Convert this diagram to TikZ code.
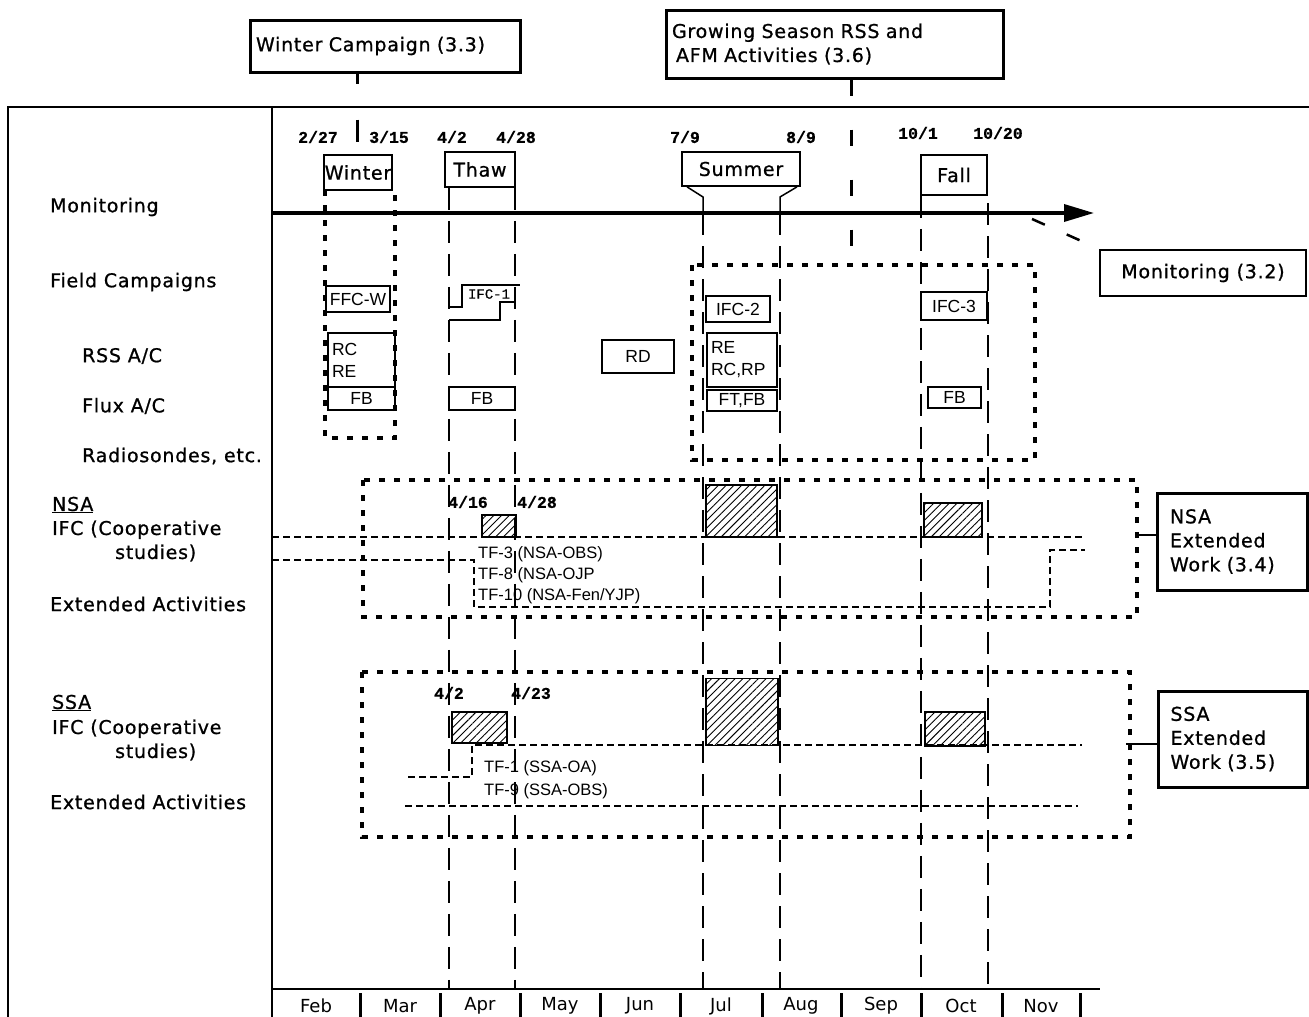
\documentclass[tikz,border=0pt]{standalone}
\usepackage{fontspec}
\setmainfont{DejaVu Sans}
\newfontfamily\rowfam[FakeBold=0.9,LetterSpace=4]{DejaVu Sans}
\newfontfamily\helvfont{Liberation Sans}
\newfontfamily\courfont[FakeBold=0.6]{Liberation Mono}
\usetikzlibrary{arrows.meta,patterns.meta}
\newcommand{\rowfont}{\rowfam\fontsize{19}{24}\selectfont}
\newcommand{\boxfont}{\helvfont\fontsize{17.5}{22}\selectfont}
\newcommand{\tffont}{\helvfont\fontsize{16.5}{21}\selectfont}
\newcommand{\datefont}{\courfont\bfseries\fontsize{16.5}{18}\selectfont}
\begin{document}
\begin{tikzpicture}[x=1pt,y=-1pt,
  frame/.style={line width=2.2pt},
  titlebox/.style={draw,line width=3pt,inner xsep=6pt,inner ysep=0pt,font=\rowfont,align=left},
  period/.style={draw,line width=1.8pt,inner sep=0pt,font=\rowfont},
  cbox/.style={draw,line width=1.8pt,inner sep=0pt,font=\boxfont},
  dotbox/.style={line width=3.5pt,dash pattern=on 6pt off 9pt},
  dateline/.style={line width=1.6pt,dash pattern=on 22pt off 11pt},
  track/.style={line width=1.2pt,dash pattern=on 7pt off 4pt},
  hatch/.style={draw,line width=1.8pt,pattern={Lines[angle=45,distance=5.5pt,line width=0.9pt]}},
  row/.style={anchor=west,font=\rowfont,inner sep=0pt},
  date/.style={font=\datefont,inner sep=0pt},
  tf/.style={anchor=west,font=\tffont,inner sep=0pt,align=left},
]
\useasboundingbox (0,0) rectangle (1309,1017);
%
% title boxes
\node[titlebox,minimum width=270pt,minimum height=52pt,text width=258pt] (wcamp) at (385,46) {Winter Campaign (3.3)};
\node[titlebox,minimum width=337pt,minimum height=68pt,text width=325pt] (grow) at (834.5,44) {Growing Season RSS and\\\hspace{4pt}AFM Activities (3.6)};
\draw[line width=3pt,dash pattern=on 10pt off 36pt on 24pt off 100pt] (wcamp.south -| 357,0) -- (357,142);
\draw[line width=3pt,dash pattern=on 16pt off 34pt] (grow.south -| 851,0) -- (851,250);
%
% frame and time axis
\draw[frame] (8,1017) -- (8,107) -- (1309,107);
\draw[line width=2pt] (272,107) -- (272,1017);
\draw[line width=2pt] (272,989) -- (1100,989);
\foreach \x in {360,440,520,600,680,762,841,921,1002,1080}
  \draw[line width=3pt] (\x,993) -- (\x,1017);
\foreach \x/\m in {316/Feb,400/Mar,480/Apr,560/May,640/Jun,721/Jul,801/Aug,881/Sep,961/Oct,1041/Nov}
  \node[font=\fontsize{18}{20}\selectfont,inner sep=0pt] (m\m) at (\x,1006) {\m};
\coordinate (d1) at (449,989);
\coordinate (d2) at (515,989);
\coordinate (d3) at (703,989);
\coordinate (d4) at (780,989);
\coordinate (d5) at (921,989);
\coordinate (d6) at (988,989);
\coordinate (axisL) at (272,213);
%
% row labels
\node[row] (lmon) at (50,207) {Monitoring};
\node[row] (lfield) at (50,282) {Field Campaigns};
\node[row] (lrss) at (82,356) {RSS A/C};
\node[row] (lflux) at (82,406) {Flux A/C};
\node[row] (lradio) at (82,456) {Radiosondes, etc.};
\node[row] (lnsa) at (52,505) {\underline{NSA}};
\node[row,align=left] (lnsaifc) at (52,541) {IFC (Cooperative\\\hspace{63pt}studies)};
\node[row] (lnsaext) at (50,604) {Extended Activities};
\node[row] (lssa) at (52,703) {\underline{SSA}};
\node[row,align=left] (lssaifc) at (52,740) {IFC (Cooperative\\\hspace{63pt}studies)};
\node[row] (lssaext) at (50,802) {Extended Activities};
%
% periods
\node[period,minimum width=68pt,minimum height=35pt] (winter) at (358,172.5) {Winter};
\node[period,minimum width=70pt,minimum height=35pt] (thaw) at (480,169.5) {Thaw};
\node[period,minimum width=118pt,minimum height=34pt] (summer) at (741,169) {Summer};
\node[period,minimum width=66pt,minimum height=40pt] (fall) at (954,175) {Fall};
\node[date] (t1) at (318,137) {2/27};
\node[date] (t2) at (389,137) {3/15};
\node[date] (t3) at (452,137) {4/2};
\node[date] (t4) at (516,137) {4/28};
\node[date] (t5) at (685,137) {7/9};
\node[date] (t6) at (801,137) {8/9};
\node[date] (t7) at (918,133) {10/1};
\node[date] (t8) at (998,133) {10/20};
%
% monitoring
\draw[line width=3.5pt,-{Triangle[length=30pt,width=17pt]}] (axisL) -- (1094,213);
\node[draw,line width=2.5pt,minimum width=206pt,minimum height=46pt,inner sep=0pt,font=\rowfont] (mon32) at (1203,273) {Monitoring (3.2)};
\draw[line width=2.5pt,dash pattern=on 14pt off 24pt] (1032,219) -- (mon32.north west);
%
% date lines
\draw[line width=1.5pt] ([xshift=6pt]summer.south west) -- (703,197) -- (d3 |- axisL);
\draw[line width=1.5pt] ([xshift=-4pt]summer.south east) -- (780,197) -- (d4 |- axisL);
\draw[dateline] (d1 |- thaw.south) -- (d1);
\draw[dateline] (d2 |- thaw.south) -- (d2);
\draw[dateline] (d3 |- axisL) -- (d3);
\draw[dateline] (d4 |- axisL) -- (d4);
\draw[dateline] (d5 |- fall.south) -- (d5);
\draw[dateline] (988,203) -- (d6);
%
% field campaigns
\draw[dotbox] (325,190) -- (325,438) -- (395,438) -- (395,190);
\draw[dotbox] (692,265) rectangle (1035,460);
\node[cbox,minimum width=64pt,minimum height=26pt] (ffcw) at (358,299) {FFC-W};
\node[cbox,minimum width=67pt,minimum height=54pt,text width=59pt,align=left] (rcw) at (361.5,360) {RC\\RE};
\node[cbox,minimum width=67pt,minimum height=23pt] (fbw) at (361.5,398.5) {FB};
\draw[line width=1.5pt] (449,307) -- (462,307) -- (462,285) -- (520,285);
\draw[line width=1.5pt] (449,320) -- (500,320) -- (500,302) -- (515,302);
\node[font=\courfont\fontsize{14}{16}\selectfont,inner sep=0pt] (ifc1) at (489,294) {IFC-1};
\node[cbox,minimum width=66pt,minimum height=23pt] (fbt) at (482,398.5) {FB};
\node[cbox,minimum width=72pt,minimum height=33pt] (rd) at (638,356.5) {RD};
\node[cbox,minimum width=64pt,minimum height=26pt] (ifc2) at (738,309) {IFC-2};
\node[cbox,minimum width=70pt,minimum height=54pt,text width=62pt,align=left] (rcs) at (742,360) {RE\\RC,RP};
\node[cbox,minimum width=70pt,minimum height=21pt] (fts) at (742,400.5) {FT,FB};
\node[cbox,minimum width=66pt,minimum height=28pt] (ifc3) at (954,306) {IFC-3};
\node[cbox,minimum width=53pt,minimum height=21pt] (fbf) at (954.5,397.5) {FB};
%
% NSA
\draw[dotbox] (363,480) rectangle (1137,617);
\node[date] (n1) at (468,502) {4/16};
\node[date] (n2) at (537,502) {4/28};
\node[hatch,minimum width=34pt,minimum height=22pt,inner sep=0pt] (nh1) at (499,526) {};
\node[hatch,minimum width=71pt,minimum height=52pt,inner sep=0pt] (nh2) at (741.5,511) {};
\node[hatch,minimum width=58pt,minimum height=34pt,inner sep=0pt] (nh3) at (953,520) {};
\draw[track] (272,537) -- (1085,537);
\draw[track] (272,560) -- (474,560) -- (474,607) -- (1050,607) -- (1050,550) -- (1085,550);
\node[tf] (tf3) at (478,554) {TF-3 (NSA-OBS)};
\node[tf] (tf8) at (478,575) {TF-8 (NSA-OJP};
\node[tf] (tf10) at (478,596) {TF-10 (NSA-Fen/YJP)};
\node[draw,line width=3pt,minimum width=150pt,minimum height=97pt,text width=124pt,inner sep=0pt,align=left,font=\rowfont] (nsaw) at (1232,541.5) {NSA\\Extended\\Work (3.4)};
\draw[line width=1.5pt] (1137,535) -- (nsaw.west |- 0,535);
%
% SSA
\draw[dotbox] (362,672) rectangle (1130,837);
\node[date] (s1) at (449,693) {4/2};
\node[date] (s2) at (531,693) {4/23};
\node[hatch,minimum width=55pt,minimum height=31pt,inner sep=0pt] (sh1) at (479.5,727.5) {};
\node[hatch,minimum width=72pt,minimum height=67pt,inner sep=0pt] (sh2) at (742,712) {};
\node[hatch,minimum width=60pt,minimum height=34pt,inner sep=0pt] (sh3) at (955,729) {};
\draw[track] (408,777) -- (472,777) -- (472,745) -- (1082,745);
\draw[track] (405,806) -- (1078,806);
\node[tf] (tf1) at (484,768) {TF-1 (SSA-OA)};
\node[tf] (tf9) at (484,791) {TF-9 (SSA-OBS)};
\node[draw,line width=3pt,minimum width=149pt,minimum height=96pt,text width=124pt,inner sep=0pt,align=left,font=\rowfont] (ssaw) at (1232.5,739) {SSA\\Extended\\Work (3.5)};
\draw[line width=1.5pt] (1126,744) -- (ssaw.west |- 0,744);
\end{tikzpicture}
\end{document}
